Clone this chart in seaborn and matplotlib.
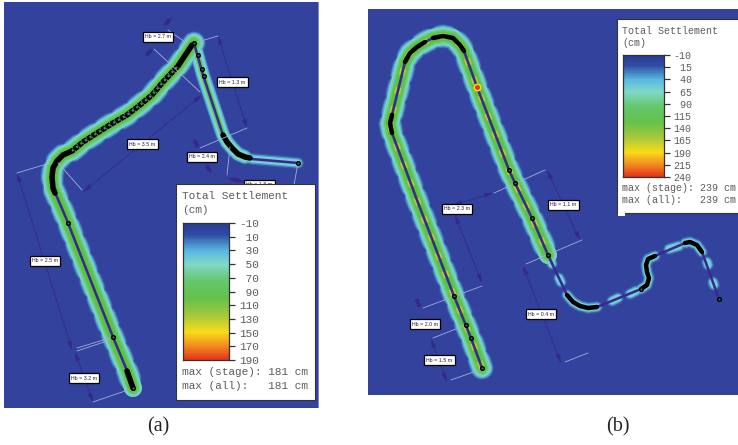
"""Total settlement maps for two road alignments, panels (a) and (b)."""
import matplotlib
matplotlib.use("Agg")
import matplotlib.pyplot as plt
from matplotlib.colors import LinearSegmentedColormap
from matplotlib.patches import Rectangle
import numpy as np
import seaborn as sns

W, H = 738, 445
BG = "#33429c"
ROAD = "#3b2a8e"
DIM = "#36288a"
EXT = "#a4acdc"

# alignment traces, picture pixels
ROAD_A_TAIL = [(298, 163), (252, 159), (245, 157)]
ROAD_A_ARM = [(245, 157), (238, 154), (232, 148), (227, 142), (223, 135), (203, 75), (194, 43)]
ROAD_A_LIMB = [(194, 43), (177, 67), (163, 82), (152, 95), (140, 105), (127, 115), (113, 123),
               (97, 133), (83, 142), (72, 151), (63, 155), (57, 161), (53, 168), (52, 177),
               (53, 188), (57, 197), (66, 218), (68, 223), (113, 337), (128, 373), (133, 388)]
ROAD_B_MAIN = [(482, 368), (471, 338), (454, 296), (417, 200), (392, 133), (390, 123), (392, 115),
               (405, 62), (410, 53), (417, 47), (425, 42), (433, 38), (443, 36), (453, 38),
               (460, 45), (464, 51), (477, 87), (509, 170), (515, 183), (532, 218), (548, 255)]
ROAD_B_TAIL = [(548, 255), (567, 295), (573, 302), (580, 306), (588, 308), (597, 307), (641, 289),
               (647, 285), (649, 278), (647, 272), (646, 265), (648, 259), (655, 256), (685, 243),
               (690, 242), (697, 245), (702, 252), (719, 299)]

# stretches drawn heavy in black
HEAVY_A = [[(72, 151), (63, 155), (57, 161), (53, 168), (52, 177), (53, 188), (55, 193)],
           [(223, 135), (227, 142), (232, 148), (238, 154), (245, 157), (250, 158)],
           [(178, 66), (192, 45)],
           [(127, 371), (133, 388)]]
BEADED_A = [(177, 67), (163, 82), (152, 95), (140, 105), (127, 115), (113, 123), (97, 133),
            (83, 142), (72, 151)]
HEAVY_B = [[(392, 133), (390, 123), (392, 115)],
           [(405, 62), (410, 53), (417, 47), (425, 42)],
           [(433, 38), (443, 36), (453, 38), (460, 45), (464, 51)],
           [(567, 295), (573, 302), (580, 306), (588, 308), (597, 307)],
           [(641, 289), (647, 285), (649, 278), (647, 272), (646, 265), (648, 259), (655, 256)],
           [(685, 243), (690, 242), (697, 245), (702, 252)]]

# glow patches along the last stretch of (b)
TAIL_GLOW = [[(550, 258), (552, 264)], [(559, 278), (561, 282)], [(612, 301), (618, 298)],
             [(630, 294), (636, 291)], [(669, 249), (679, 246)], [(707, 262), (708, 265)],
             [(713, 282), (714, 285)],
             [(567, 295), (573, 302), (580, 306), (588, 308), (597, 307)],
             [(641, 289), (647, 285), (649, 278), (647, 272), (646, 265), (648, 259), (655, 256)],
             [(685, 243), (690, 242), (697, 245), (702, 252)]]

NODES = [(68, 223), (113, 337), (198, 55), (202, 69), (204, 76), (194, 43), (298, 163), (133, 388),
         (509, 170), (515, 183), (532, 218), (454, 296), (466, 325), (471, 338), (482, 368),
         (719, 299), (641, 289), (548, 255)]
HOT_X, HOT_Y = [477], [87]

# dimension lines and their extension lines
DIMS = [((172, 17), (163, 27)), ((153, 48), (145, 57)), ((218, 36), (247, 128)),
        ((202, 95), (83, 192)), ((193, 138), (199, 149)), ((205, 163), (212, 174)),
        ((227, 178), (245, 182)), ((17, 173), (72, 350)), ((75, 352), (93, 402)),
        ((453, 205), (493, 193)), ((547, 170), (580, 240)), ((455, 215), (482, 283)),
        ((416, 298), (420, 308)), ((431, 339), (447, 382)), ((523, 266), (561, 363))]
EXTS = [((168, 30), (185, 42)), ((194, 43), (218, 36)), ((154, 49), (200, 92)),
        ((200, 148), (247, 128)), ((58, 163), (82, 190)), ((17, 173), (50, 163)),
        ((230, 147), (227, 175)), ((298, 163), (294, 185)), ((77, 348), (110, 338)),
        ((77, 351), (110, 340)), ((93, 402), (128, 390)),
        ((494, 193), (545, 170)), ((582, 240), (526, 264)), ((482, 286), (423, 308)),
        ((433, 338), (466, 325)), ((451, 380), (482, 369)), ((565, 362), (588, 353))]

HB_LABELS = ["Hb = 2.7 m", "Hb = 1.3 m", "Hb = 3.5 m", "Hb = 2.4 m", "Hb = 1.8 m", "Hb = 2.5 m",
             "Hb = 3.2 m", "Hb = 2.3 m", "Hb = 1.1 m", "Hb = 2.0 m", "Hb = 1.5 m", "Hb = 0.4 m"]
HB_X = [158, 232, 142, 202, 259, 45, 84, 457, 563, 425, 439, 541]
HB_Y = [37, 82, 144, 157, 185, 261, 378, 209, 205, 324, 360, 314]

TICKS_A = [-10, 10, 30, 50, 70, 90, 110, 130, 150, 170, 190]
TICKS_B = [-10, 15, 40, 65, 90, 115, 140, 165, 190, 215, 240]
MAX_A = ["max (stage): 181 cm", "max (all):   181 cm"]
MAX_B = ["max (stage): 239 cm", "max (all):   239 cm"]

CMAP = LinearSegmentedColormap.from_list("settlement", [
    (0.00, "#2a3c98"), (0.08, "#2f4aa2"), (0.20, "#58b8e2"), (0.30, "#80d8c8"),
    (0.42, "#66c66c"), (0.55, "#62c24a"), (0.68, "#a8c83c"), (0.80, "#f8dc18"),
    (0.90, "#f28c20"), (1.00, "#e4341c")])

BEAD_HALO = ["#3a55a8", "#4a86c0", "#5cb6d8"]
BEAD_W = [24, 22, 20]
CORE_HALO = ["#78d4cc", "#74d0a0", "#64c868", "#5cc244"]
CORE_W = [18, 15, 12, 9]
ARM_HALO = ["#3f62ae", "#5cb6d8", "#7cd6c8", "#64c868"]
ARM_W = [15, 13, 10, 6]
SMALL_HALO = ["#3b58aa", "#4f9ccc", "#78cfd4"]
SMALL_W = [12, 9.5, 7]


def trace(ax, pts, **kws):
    xs = [p[0] for p in pts]
    ys = [p[1] for p in pts]
    sns.lineplot(x=xs, y=ys, sort=False, estimator=None, legend=False, ax=ax, **kws)


def px(width):
    return width * 72 / 100


def glow(ax, pts, colors, widths, dash="-", base=2):
    for i, (col, w) in enumerate(zip(colors, widths)):
        trace(ax, pts, color=col, linewidth=px(w), linestyle=dash, zorder=base + i * 0.01,
              dash_capstyle="round", solid_capstyle="round")


def full_glow(ax, pts):
    # beaded outer rings give the scalloped edge
    glow(ax, pts, BEAD_HALO, BEAD_W, dash=(0, (6, 8)), base=2)
    glow(ax, pts, BEAD_HALO[1:], [18, 17], base=2.1)
    glow(ax, pts, CORE_HALO, CORE_W, base=2.2)


def legend_box(fig, ax, box, bar, ticks, max_lines, fs, title_y, max_y, text_x):
    ax.add_patch(Rectangle((box[0], box[1]), box[2] - box[0], box[3] - box[1], fc="white",
                           ec="#333333", lw=0.8, zorder=20))
    ax.text(text_x, title_y[0], "Total Settlement", family="Liberation Mono", fontsize=fs,
            color="#5c5c5c", va="center", zorder=21)
    ax.text(text_x, title_y[1], "(cm)", family="Liberation Mono", fontsize=fs,
            color="#5c5c5c", va="center", zorder=21)
    for y, line in zip(max_y, max_lines):
        ax.text(text_x, y, line, family="Liberation Mono", fontsize=fs, color="#5c5c5c",
                va="center", zorder=21)

    cax = fig.add_axes([bar[0] / W, 1 - bar[3] / H, (bar[2] - bar[0]) / W, (bar[3] - bar[1]) / H],
                       zorder=30)
    levels = np.linspace(ticks[0], ticks[-1], 201).reshape(-1, 1)
    sns.heatmap(levels, cmap=CMAP, cbar=False, ax=cax, xticklabels=False, vmin=ticks[0], vmax=ticks[-1])
    for s in cax.spines.values():
        s.set_visible(True)
        s.set_color("#333333")
        s.set_linewidth(0.9)
    cax.yaxis.tick_right()
    cax.set_yticks([(t - ticks[0]) / (ticks[-1] - ticks[0]) * 201 for t in ticks])
    cax.set_yticklabels([f"{t:>3}" for t in ticks], family="Liberation Mono", fontsize=fs,
                        color="#5c5c5c", rotation=0)
    cax.tick_params(axis="y", length=4.5, width=0.9, color="#333333", pad=2.5)


def main():
    sns.set_theme(style="white")
    plt.rcParams["lines.scale_dashes"] = False
    plt.rcParams["font.family"] = ["Liberation Sans", "DejaVu Sans"]

    fig = plt.figure(figsize=(W / 100, H / 100), dpi=100, facecolor="white")
    ax = fig.add_axes([0, 0, 1, 1])
    ax.axis("off")

    ax.add_patch(Rectangle((4, 2), 315, 406, fc=BG, ec="none", zorder=0))
    ax.add_patch(Rectangle((318, 2), 1.2, 406, fc="#7c88c8", ec="none", zorder=0.5))
    ax.add_patch(Rectangle((368, 9), 370, 386, fc=BG, ec="none", zorder=0))

    # settlement glow round each alignment
    full_glow(ax, ROAD_A_LIMB)
    glow(ax, ROAD_A_ARM, ARM_HALO, ARM_W)
    glow(ax, ROAD_A_TAIL, SMALL_HALO, SMALL_W)
    full_glow(ax, ROAD_B_MAIN)
    trace(ax, ROAD_B_MAIN, color="#b6cc38", linewidth=px(6), linestyle=(0, (5, 9)), zorder=2.4)
    for patch in TAIL_GLOW:
        glow(ax, patch, SMALL_HALO, SMALL_W)

    for road in (ROAD_A_TAIL, ROAD_A_ARM, ROAD_A_LIMB, ROAD_B_MAIN, ROAD_B_TAIL):
        trace(ax, road, color=ROAD, linewidth=px(2.6), zorder=5)

    for seg in HEAVY_A:
        trace(ax, seg, color="black", linewidth=px(5.5), zorder=6, solid_capstyle="round")
    for seg in HEAVY_B:
        trace(ax, seg, color="black", linewidth=px(4.5), zorder=6, solid_capstyle="round")
    # ring row on the long limb of (a)
    trace(ax, BEADED_A, color="black", linewidth=px(5.5), linestyle=(0, (3.4, 0.6)), zorder=6,
          dash_capstyle="butt")
    trace(ax, BEADED_A, color="#3f8a68", linewidth=px(2.4), linestyle=(0, (1.6, 2.4)), zorder=6.1,
          dash_capstyle="butt")

    for a, b in EXTS:
        trace(ax, [a, b], color=EXT, linewidth=0.6, zorder=7)
    for a, b in DIMS:
        ax.annotate("", xy=b, xytext=a, zorder=7,
                    arrowprops=dict(arrowstyle="<|-|>,head_length=0.42,head_width=0.11", color=DIM,
                                    lw=0.6, shrinkA=0, shrinkB=0))

    sns.scatterplot(x=[p[0] for p in NODES], y=[p[1] for p in NODES], s=7, color="#556",
                    edgecolor="black", linewidth=1.0, legend=False, zorder=8, ax=ax)
    sns.scatterplot(x=HOT_X, y=HOT_Y, s=22, color="#e8371c", edgecolor="#f8dc18", linewidth=1.1,
                    legend=False, zorder=8, ax=ax)

    for label, x, y in zip(HB_LABELS, HB_X, HB_Y):
        ax.text(x, y, label, fontsize=3.8, color="#222222", ha="center", va="center", zorder=10,
                bbox=dict(boxstyle="square,pad=0.45", fc="white", ec="black", lw=0.9))

    legend_box(fig, ax, (176, 184, 315, 400), (183, 223, 229, 360), TICKS_A, MAX_A, 8,
               (196, 210), (372, 386), 182)
    legend_box(fig, ax, (617, 19, 742, 213), (623, 55, 664, 177), TICKS_B, MAX_B, 7.2,
               (31, 43), (188, 200), 622)
    ax.add_patch(Rectangle((618, 213), 7, 3, fc="white", ec="none", zorder=20))

    ax.text(158, 427, "(a)", family="Liberation Serif", fontsize=14.5, color="#222222",
            ha="center", va="center")
    ax.text(618, 427, "(b)", family="Liberation Serif", fontsize=14.5, color="#222222",
            ha="center", va="center")

    ax.set_xlim(0, W)
    ax.set_ylim(H, 0)
    fig.savefig("out.png", dpi=100)
    plt.close(fig)


main()
